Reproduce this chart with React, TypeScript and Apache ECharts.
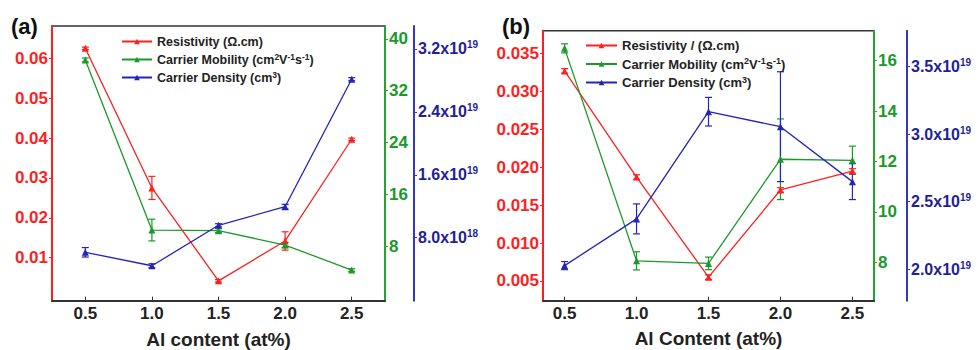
import React, { useEffect, useRef } from "react";
import * as echarts from "echarts";

const xVals = [0.5, 1.0, 1.5, 2.0, 2.5];

// Panel (a)
const resA = [0.0625, 0.0275, 0.0042, 0.0142, 0.0397];
const resAErr = [0.0003, 0.0029, 0.0003, 0.0023, 0.0003];
const mobA = [36.75, 10.47, 10.37, 8.15, 4.29];
const mobAErr = [0.3, 1.68, 0.3, 0.4, 0.2];
const denA = [6.15e18, 4.44e18, 9.58e18, 1.194e19, 2.814e19];
const denAErr = [0.6e18, 0.25e18, 0.2e18, 0.3e18, 0.2e18];

// Panel (b)
const resB = [0.0327, 0.0187, 0.0055, 0.017, 0.0195];
const resBErr = [0.0003, 0.0003, 0.0003, 0.0003, 0.0003];
const mobB = [16.49, 8.06, 7.96, 12.09, 12.05];
const mobBErr = [0.18, 0.36, 0.25, 1.6, 0.56];
const denB = [2.027e19, 2.373e19, 3.167e19, 3.056e19, 2.649e19];
const denBErr = [0.03e19, 0.111e19, 0.106e19, 0.407e19, 0.133e19];

// Tick labels
const xTicks = [0.5, 1.0, 1.5, 2.0, 2.5];
const resATicks = [0.01, 0.02, 0.03, 0.04, 0.05, 0.06];
const mobATicks = [8, 16, 24, 32, 40];
const denATicks = [8.0e18, 1.6e19, 2.4e19, 3.2e19];
const resBTicks = [0.005, 0.01, 0.015, 0.02, 0.025, 0.03, 0.035];
const mobBTicks = [8, 10, 12, 14, 16];
const denBTicks = [2.0e19, 2.5e19, 3.0e19, 3.5e19];

const resNameA = "Resistivity (Ω.cm)";
const resNameB = "Resistivity / (Ω.cm)";
const mobName = "Carrier Mobility (cm{s|2}V{s|-1}s{s|-1})";
const denName = "Carrier Density (cm{s|3})";
const xNameA = "Al content (at%)";
const xNameB = "Al Content (at%)";

const FONT = "'Liberation Sans', Arial, sans-serif";
const RED = "#ff1f1f";
const GREEN = "#1a9a2a";
const GREEN_LINE = "#22a532";
const BLUE = "#2424b8";
const BLUE_LABEL = "#1f1f9a";
const BLUE_LINE = "#3535c8";

function sci(v: number) {
  const e = Math.floor(Math.log10(v) + 1e-9);
  const m = v / Math.pow(10, e);
  return `{b|${m.toFixed(1)}x10}{s|${e}}`;
}

function errRender(params: any, api: any) {
  const x = api.value(0);
  const y = api.value(1);
  const e = api.value(2);
  const t = api.coord([x, y + e]);
  const b = api.coord([x, y - e]);
  const style = { stroke: api.visual("color"), lineWidth: 1.2 };
  const w = 3.5;
  return {
    type: "group",
    children: [
      { type: "line", shape: { x1: t[0], y1: t[1], x2: b[0], y2: b[1] }, style },
      { type: "line", shape: { x1: t[0] - w, y1: t[1], x2: t[0] + w, y2: t[1] }, style },
      { type: "line", shape: { x1: b[0] - w, y1: b[1], x2: b[0] + w, y2: b[1] }, style },
    ],
  };
}

function pts(ys: number[]) {
  return xVals.map((x, i) => [x, ys[i]]);
}
function errPts(ys: number[], es: number[]) {
  return xVals.map((x, i) => [x, ys[i], es[i]]);
}

function xAxis(gridIndex: number, min: number, max: number, name: string, gap: number) {
  return {
    type: "value",
    gridIndex,
    min,
    max,
    name,
    nameLocation: "middle",
    nameGap: gap,
    nameTextStyle: { fontFamily: FONT, fontWeight: "bold", fontSize: 19, color: "#222" },
    splitLine: { show: false },
    axisLine: { show: true, onZero: false, lineStyle: { color: "#333", width: 2 } },
    axisTick: { show: true, inside: true, length: 4, customValues: xTicks, lineStyle: { color: "#333" } },
    axisLabel: {
      customValues: xTicks,
      formatter: (v: number) => v.toFixed(1),
      fontFamily: FONT,
      fontWeight: "bold",
      fontSize: 17,
      color: "#222",
      margin: 4,
    },
  };
}

function yAxis(
  gridIndex: number,
  pos: string,
  offset: number,
  min: number,
  max: number,
  ticks: number[],
  fmt: any,
  labelColor: string,
  lineColor: string,
  rich?: any
) {
  return {
    type: "value",
    gridIndex,
    position: pos,
    offset,
    min,
    max,
    splitLine: { show: false },
    axisLine: { show: true, onZero: false, lineStyle: { color: lineColor, width: 2 } },
    axisTick: { show: true, length: 3, customValues: ticks, lineStyle: { color: lineColor } },
    axisLabel: {
      customValues: ticks,
      formatter: fmt,
      fontFamily: FONT,
      fontWeight: "bold",
      fontSize: 17,
      color: labelColor,
      margin: 4,
      rich,
    },
  };
}

function lineSeries(name: string, data: any, xi: number, yi: number, color: string) {
  return {
    type: "line",
    name,
    data,
    xAxisIndex: xi,
    yAxisIndex: yi,
    symbol: "triangle",
    symbolSize: 7,
    color,
    lineStyle: { color, width: 1.3 },
    itemStyle: { color },
    z: 3,
  };
}

function errSeries(data: any, xi: number, yi: number, color: string) {
  return {
    type: "custom",
    data,
    xAxisIndex: xi,
    yAxisIndex: yi,
    renderItem: errRender,
    itemStyle: { color },
    encode: { x: 0, y: 1 },
    z: 2,
    silent: true,
  };
}

const blueRich = {
  b: { fontFamily: FONT, fontWeight: "bold", fontSize: 16, color: BLUE_LABEL },
  s: { fontFamily: FONT, fontWeight: "bold", fontSize: 10, color: BLUE_LABEL, verticalAlign: "top", padding: [0, 0, 8, 0] },
};

const legendRich = (size: number) => ({
  s: { fontFamily: FONT, fontWeight: "bold", fontSize: size - 4, color: "#222", verticalAlign: "top", padding: [0, 0, 6, 0] },
});

export default function App() {
  const ref = useRef<HTMLDivElement>(null);
  useEffect(() => {
    if (!ref.current) return;
    const chart = echarts.init(ref.current, null, { renderer: "svg" });
    const option: any = {
      animation: false,
      backgroundColor: "#ffffff",
      grid: [
        { left: 52, right: 595, top: 26, bottom: 49.3, show: true, borderColor: "#333", borderWidth: 1.5, backgroundColor: "transparent", outerBoundsMode: "none", containLabel: false },
        { left: 543, right: 106, top: 30.7, bottom: 49.3, show: true, borderColor: "#333", borderWidth: 1.5, backgroundColor: "transparent", outerBoundsMode: "none", containLabel: false },
      ],
      xAxis: [xAxis(0, 0.25, 2.75, xNameA, 29), xAxis(1, 0.35, 2.65, xNameB, 28)],
      yAxis: [
        yAxis(0, "left", 0, -0.00078, 0.0681, resATicks, (v: number) => v.toFixed(2), RED, RED),
        yAxis(0, "right", 0, -0.45, 42, mobATicks, (v: number) => String(Math.round(v)), GREEN, GREEN_LINE),
        yAxis(0, "right", 29, 0, 3.49e19, denATicks, sci, BLUE_LABEL, BLUE_LINE, blueRich),
        yAxis(1, "left", 0, 0.0024, 0.038, resBTicks, (v: number) => v.toFixed(3), RED, RED),
        yAxis(1, "right", 0, 6.48, 17.19, mobBTicks, (v: number) => String(Math.round(v)), GREEN, GREEN_LINE),
        yAxis(1, "right", 33, 1.767e19, 3.767e19, denBTicks, sci, BLUE_LABEL, BLUE_LINE, blueRich),
      ],
      legend: [
        {
          data: [resNameA, mobName, denName],
          orient: "vertical",
          left: 121,
          top: 35,
          padding: 0,
          itemWidth: 30,
          itemHeight: 7,
          itemGap: 4,
          selectedMode: false,
          textStyle: { fontFamily: FONT, fontWeight: "bold", fontSize: 12.5, color: "#222", rich: legendRich(12.5) },
        },
        {
          data: [resNameB, mobName, denName],
          orient: "vertical",
          left: 585,
          top: 39,
          padding: 0,
          itemWidth: 31,
          itemHeight: 7,
          itemGap: 4.5,
          selectedMode: false,
          textStyle: { fontFamily: FONT, fontWeight: "bold", fontSize: 13, color: "#222", rich: legendRich(13) },
        },
      ],
      graphic: [
        { type: "text", left: 11, top: 15, style: { text: "(a)", font: `bold 22px ${FONT}`, fill: "#111" } },
        { type: "text", left: 502, top: 15, style: { text: "(b)", font: `bold 22px ${FONT}`, fill: "#111" } },
      ],
      series: [
        errSeries(errPts(resA, resAErr), 0, 0, RED),
        errSeries(errPts(mobA, mobAErr), 0, 1, GREEN),
        errSeries(errPts(denA, denAErr), 0, 2, BLUE),
        lineSeries(resNameA, pts(resA), 0, 0, RED),
        lineSeries(mobName, pts(mobA), 0, 1, GREEN),
        lineSeries(denName, pts(denA), 0, 2, BLUE),
        errSeries(errPts(resB, resBErr), 1, 3, RED),
        errSeries(errPts(mobB, mobBErr), 1, 4, GREEN),
        errSeries(errPts(denB, denBErr), 1, 5, BLUE),
        lineSeries(resNameB, pts(resB), 1, 3, RED),
        lineSeries(mobName, pts(mobB), 1, 4, GREEN),
        lineSeries(denName, pts(denB), 1, 5, BLUE),
      ],
    };
    chart.setOption(option);
    return () => chart.dispose();
  }, []);
  return (
    <div
      ref={ref}
      style={{ position: "fixed", left: 0, top: 0, width: 980, height: 350, background: "#fff" }}
    />
  );
}
